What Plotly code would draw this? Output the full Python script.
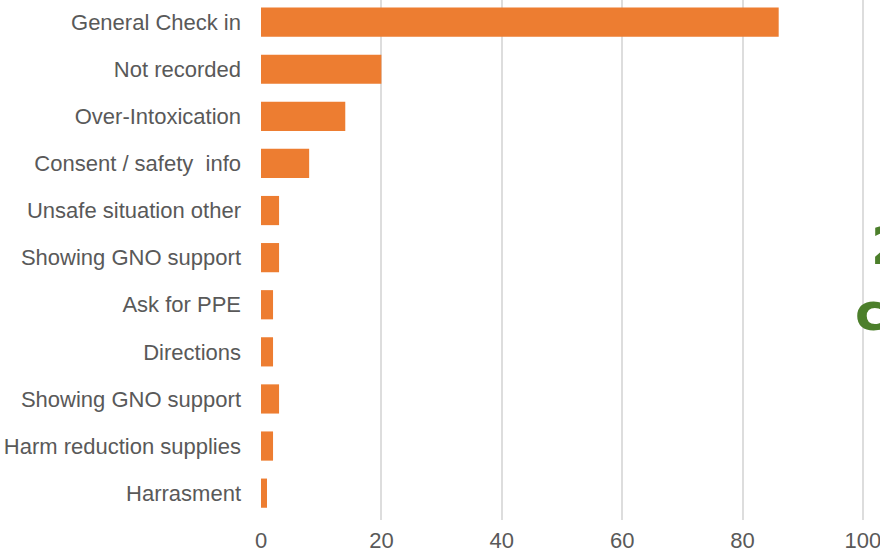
import plotly.graph_objects as go

categories = [
    "General Check in",
    "Not recorded",
    "Over-Intoxication",
    "Consent / safety  info",
    "Unsafe situation other",
    "Showing GNO support",
    "Ask for PPE",
    "Directions",
    "Showing GNO support",
    "Harm reduction supplies",
    "Harrasment",
]
values = [86, 20, 14, 8, 3, 3, 2, 2, 3, 2, 1]
x_ticks = [0, 20, 40, 60, 80, 100]

positions = list(range(len(categories)))

W, H = 880, 554
ML, MR, MT, MB = 261, 5, 0, 34

fig = go.Figure(
    go.Bar(
        x=values,
        y=positions,
        orientation="h",
        marker=dict(color="#ED7D31", line=dict(width=0)),
        width=0.62,
        hoverinfo="skip",
    )
)

text_font = dict(family="Liberation Sans, Arial, sans-serif", size=22, color="#595959")

fig.update_layout(
    width=W,
    height=H,
    margin=dict(l=ML, r=MR, t=MT, b=MB, pad=0, autoexpand=False),
    paper_bgcolor="white",
    plot_bgcolor="white",
    showlegend=False,
    font=text_font,
    xaxis=dict(
        range=[0, 102],
        tickvals=x_ticks,
        ticktext=[str(v) for v in x_ticks],
        showgrid=True,
        gridcolor="#DDDDDD",
        gridwidth=1.5,
        zeroline=False,
        showline=False,
        ticks="",
        ticklabelstandoff=5,
        ticklabeloverflow="allow",
        automargin=False,
        tickfont=text_font,
        fixedrange=True,
    ),
    yaxis=dict(
        range=[10.57, -0.47],
        tickvals=positions,
        ticktext=categories,
        showgrid=False,
        zeroline=False,
        showline=False,
        ticks="",
        ticklabelstandoff=19,
        automargin=False,
        tickfont=text_font,
        fixedrange=True,
    ),
)

plot_w = W - ML - MR
plot_h = H - MT - MB


def px_to_paper(px, py):
    return (px - ML) / plot_w, 1 - (py - MT) / plot_h


green = "#4C7F2B"
for txt, (px, py) in [("2", (869, 246)), ("c", (853, 312))]:
    ax, ay = px_to_paper(px, py)
    fig.add_annotation(
        text=txt,
        x=ax,
        y=ay,
        xref="paper",
        yref="paper",
        xanchor="left",
        yanchor="middle",
        showarrow=False,
        font=dict(family="DejaVu Sans, sans-serif", size=52, color=green, weight="bold"),
    )

fig.write_html(
    "out.html",
    config={"displayModeBar": False},
    post_script="document.body.style.margin='0';document.body.style.overflow='hidden';",
)
